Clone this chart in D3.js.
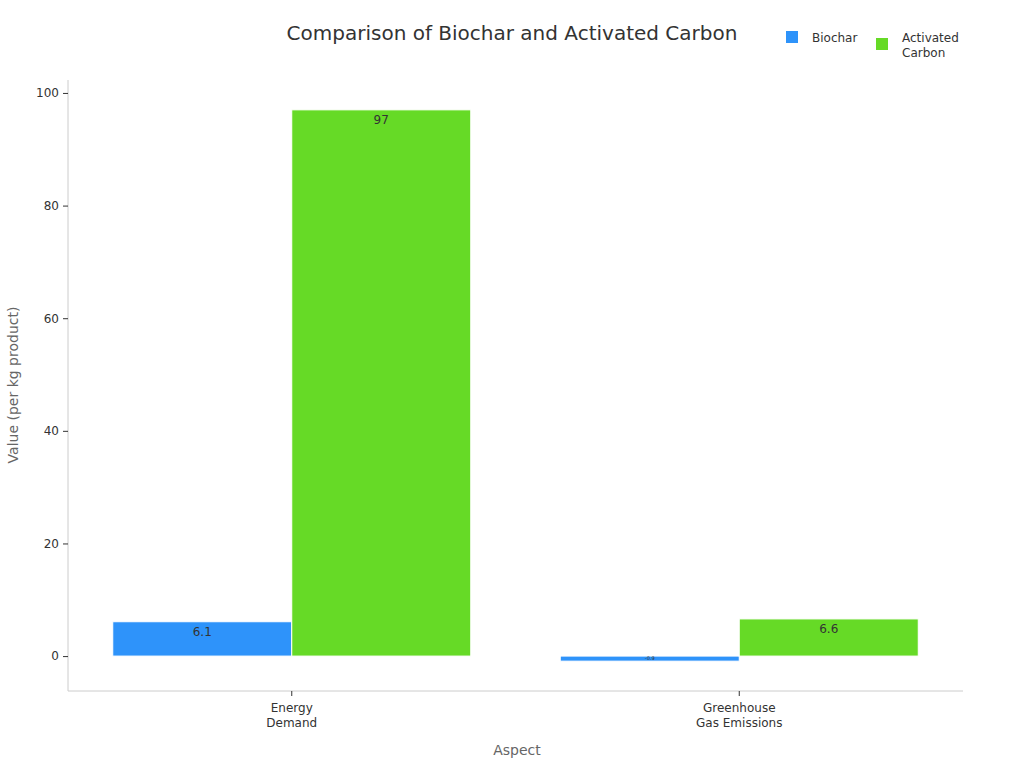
<!DOCTYPE html>
<html><head><meta charset="utf-8">
<script src="https://cdn.jsdelivr.net/npm/d3@7"></script>
<style>body{margin:0;background:#fff;font-family:"DejaVu Sans",sans-serif;}</style>
</head><body><svg id="c" width="1024" height="768"></svg>
<script>
const categories = [["Energy", "Demand"], ["Greenhouse", "Gas Emissions"]];
const seriesNames = ["Biochar", "Activated Carbon"];
const biochar = [6.1, -0.9];
const activatedCarbon = [97, 6.6];
const yTicks = [0, 20, 40, 60, 80, 100];
const colors = ["#2E93FA", "#66DA26"];

const svg = d3.select("#c");
const m = {l: 68, r: 963, t: 80, b: 691};
const x = d3.scaleBand().domain([0, 1]).range([m.l, m.r]).paddingInner(0.2).paddingOuter(0.1);
const xs = d3.scaleBand().domain([0, 1]).range([0, x.bandwidth()]);
const y = d3.scaleLinear().domain([-6.2, 102.3]).range([m.b, m.t]);

svg.append("text").attr("x", 512).attr("y", 40).attr("text-anchor", "middle")
  .attr("font-size", 20).attr("fill", "#333").text("Comparison of Biochar and Activated Carbon");

// axes
const ya = svg.append("g").attr("transform", `translate(${m.l},0)`)
  .call(d3.axisLeft(y).tickValues(yTicks).tickSize(5).tickPadding(4));
ya.select(".domain").attr("stroke", "#ccc").attr("d", `M0,${m.t}V${m.b}`);
ya.selectAll(".tick line").attr("stroke", "#333");
ya.selectAll(".tick text").attr("font-size", 12).attr("fill", "#333").attr("font-family", "DejaVu Sans");

const xa = svg.append("g").attr("transform", `translate(0,${m.b})`)
  .call(d3.axisBottom(x).tickFormat("").tickSize(5));
xa.select(".domain").attr("stroke", "#ccc").attr("d", `M${m.l},0H${m.r}`);
xa.selectAll(".tick line").attr("stroke", "#333");
categories.forEach((c, i) => {
  const t = svg.append("text").attr("x", x(i) + x.bandwidth() / 2).attr("y", m.b + 21)
    .attr("text-anchor", "middle").attr("font-size", 12).attr("fill", "#333");
  c.forEach((line, j) => t.append("tspan").attr("x", x(i) + x.bandwidth() / 2).attr("dy", j ? 15 : 0).text(line));
});

svg.append("text").attr("x", 517).attr("y", 755).attr("text-anchor", "middle")
  .attr("font-size", 14).attr("fill", "#666").text("Aspect");
svg.append("text").attr("transform", "translate(18,385) rotate(-90)").attr("text-anchor", "middle")
  .attr("font-size", 14).attr("fill", "#666").text("Value (per kg product)");

// bars
const series = [biochar, activatedCarbon];
series.forEach((vals, s) => {
  vals.forEach((v, i) => {
    const bx = x(i) + xs(s);
    const y0 = y(Math.max(0, v)), y1 = y(Math.min(0, v));
    svg.append("rect").attr("x", bx).attr("y", y0).attr("width", xs.bandwidth()).attr("height", y1 - y0)
      .attr("fill", colors[s]).attr("stroke", "#fff").attr("stroke-width", 1);
    if (v >= 0) {
      svg.append("text").attr("x", bx + xs.bandwidth() / 2).attr("y", y0 + 14)
        .attr("text-anchor", "middle").attr("font-size", 12).attr("fill", "#333").text(v);
    } else {
      svg.append("text").attr("x", bx + xs.bandwidth() / 2).attr("y", y1 - 1)
        .attr("text-anchor", "middle").attr("font-size", 5).attr("fill", "#333").text(v);
    }
  });
});

// legend
const lg = [{x: 786, lines: ["Biochar"]}, {x: 876, lines: ["Activated", "Carbon"]}];
lg.forEach((l, i) => {
  svg.append("rect").attr("x", l.x).attr("y", i ? 38 : 31).attr("width", 12).attr("height", 12).attr("fill", colors[i]);
  const t = svg.append("text").attr("x", l.x + 26).attr("y", 42).attr("font-size", 12).attr("fill", "#333");
  l.lines.forEach((ln, j) => t.append("tspan").attr("x", l.x + 26).attr("dy", j ? 15 : 0).text(ln));
});
</script></body></html>
